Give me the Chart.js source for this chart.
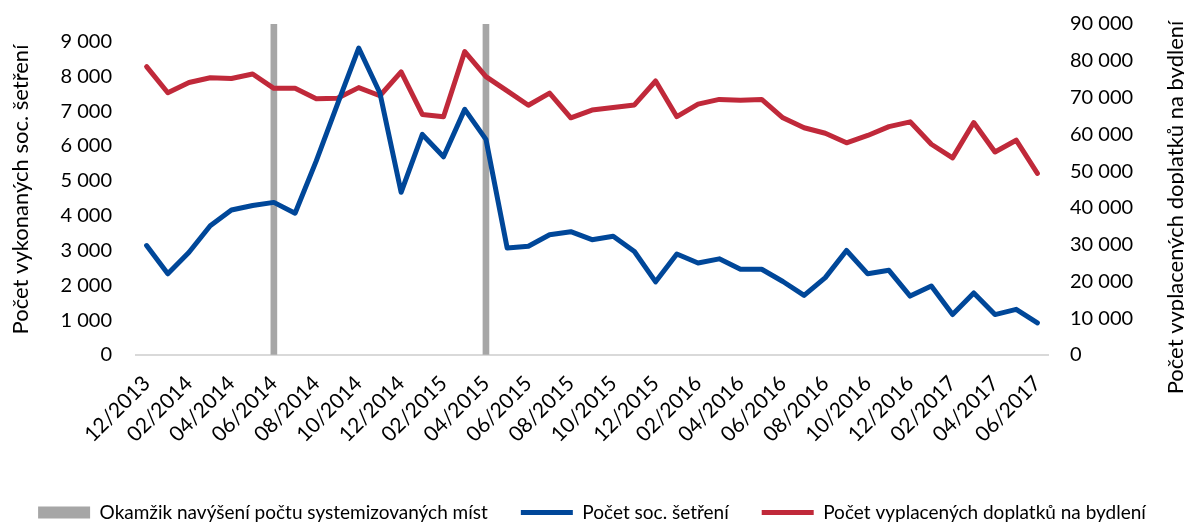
<!DOCTYPE html>
<html>
<head>
<meta charset="utf-8">
<script src="https://cdn.jsdelivr.net/npm/chart.js@4.4.0/dist/chart.umd.min.js"></script>
<style>
  html, body { margin: 0; padding: 0; background: #fff; }
  #wrap { width: 1184px; height: 522px; }
</style>
</head>
<body>
<div id="wrap"><canvas id="chart"></canvas></div>
<script>
// months on the x axis (12/2013 .. 06/2017)
const months = [
  '12/2013', '01/2014', '02/2014', '03/2014', '04/2014', '05/2014', '06/2014', '07/2014', '08/2014',
  '09/2014', '10/2014', '11/2014', '12/2014', '01/2015', '02/2015', '03/2015', '04/2015', '05/2015',
  '06/2015', '07/2015', '08/2015', '09/2015', '10/2015', '11/2015', '12/2015', '01/2016', '02/2016',
  '03/2016', '04/2016', '05/2016', '06/2016', '07/2016', '08/2016', '09/2016', '10/2016', '11/2016',
  '12/2016', '01/2017', '02/2017', '03/2017', '04/2017', '05/2017', '06/2017'
];

// Počet soc. šetření (left axis)
const socInvestigations = [
  3140, 2330, 2950, 3710, 4160, 4290, 4380, 4070, 5570, 7200, 8810, 7520, 4670, 6330, 5690,
  7050, 6190, 3070, 3120, 3450, 3540, 3310, 3410, 2970, 2100, 2900, 2640, 2760, 2460, 2460,
  2110, 1710, 2220, 3000, 2330, 2430, 1690, 1980, 1160, 1780, 1160, 1310, 920
];

// Počet vyplacených doplatků na bydlení (right axis)
const housingSupplements = [
  78400, 71300, 74100, 75400, 75200, 76400, 72500, 72500, 69700, 69800, 72700, 70500, 77000,
  65400, 64800, 82500, 75700, 71800, 67900, 71200, 64500, 66600, 67300, 68000, 74500, 64800,
  68200, 69500, 69300, 69500, 64500, 61800, 60300, 57700, 59700, 62100, 63400, 57300, 53600,
  63200, 55200, 58400, 49400
];

// months when the number of positions was raised
const staffIncreaseMonths = ['06/2014', '04/2015'];

// tick values of both value axes
const leftTicks = [0, 1000, 2000, 3000, 4000, 5000, 6000, 7000, 8000, 9000];
const rightTicks = [0, 10000, 20000, 30000, 40000, 50000, 60000, 70000, 80000, 90000];

const leftMax = 9500;
const rightMax = 90000;
const leftTitle = 'Počet vykonaných soc. šetření';
const rightTitle = 'Počet vyplacených doplatků na bydlení';

const markerBars = months.map(m => staffIncreaseMonths.includes(m) ? rightMax : null);

const fmt = v => String(v).replace(/\B(?=(\d{3})+(?!\d))/g, ' ');

Chart.defaults.font.family = 'Lato';
Chart.defaults.font.size = 20;
Chart.defaults.color = '#000';

// right axis title reads bottom-to-top like the left one
const rightTitlePlugin = {
  id: 'rightTitle',
  afterDraw(chart) {
    const ctx = chart.ctx;
    const area = chart.chartArea;
    ctx.save();
    ctx.translate(chart.width - 8, (area.top + area.bottom) / 2 + 18);
    ctx.rotate(-Math.PI / 2);
    ctx.font = '22px Lato';
    ctx.fillStyle = '#000';
    ctx.textAlign = 'center';
    ctx.textBaseline = 'middle';
    ctx.fillText(rightTitle, 0, 0);
    ctx.restore();
  }
};

// invisible tick marks push the labels away from the plot
const hiddenTicks = { display: true, drawOnChartArea: false, drawTicks: true, color: 'transparent' };

const ctx = document.getElementById('chart').getContext('2d');
new Chart(ctx, {
  type: 'line',
  data: {
    labels: months,
    datasets: [
      {
        type: 'bar',
        label: 'Okamžik navýšení počtu systemizovaných míst',
        data: markerBars,
        yAxisID: 'y2',
        backgroundColor: '#a6a6a6',
        borderWidth: 0,
        barThickness: 6,
        order: 3
      },
      {
        label: 'Počet soc. šetření',
        data: socInvestigations,
        yAxisID: 'y',
        borderColor: '#004799',
        backgroundColor: '#004799',
        borderWidth: 5,
        borderCapStyle: 'round',
        borderJoinStyle: 'round',
        pointRadius: 0,
        tension: 0,
        order: 1
      },
      {
        label: 'Počet vyplacených doplatků na bydlení',
        data: housingSupplements,
        yAxisID: 'y2',
        borderColor: '#c0293a',
        backgroundColor: '#c0293a',
        borderWidth: 5,
        borderCapStyle: 'round',
        borderJoinStyle: 'round',
        pointRadius: 0,
        tension: 0,
        order: 2
      }
    ]
  },
  options: {
    responsive: true,
    maintainAspectRatio: false,
    animation: false,
    layout: { padding: { top: 24, bottom: -10 } },
    plugins: {
      tooltip: { enabled: false },
      legend: {
        position: 'bottom',
        labels: {
          usePointStyle: true,
          pointStyleWidth: 52,
          boxHeight: 12,
          padding: 33,
          font: { size: 19 },
          sort: (a, b) => a.datasetIndex - b.datasetIndex,
          generateLabels(chart) {
            const items = Chart.defaults.plugins.legend.labels.generateLabels(chart);
            items.forEach(it => {
              if (it.datasetIndex === 0) {
                it.pointStyle = 'rect';
              } else {
                it.pointStyle = 'line';
                it.lineWidth = 5;
              }
            });
            return items;
          }
        }
      }
    },
    scales: {
      x: {
        offset: true,
        grid: { display: false },
        border: { display: true, color: '#d9d9d9', width: 2 },
        ticks: {
          autoSkip: false,
          maxRotation: 45,
          minRotation: 45,
          padding: 8,
          font: { size: 21 },
          callback: (v, i) => i % 2 === 0 ? months[i] : ''
        },
        afterFit: s => { s.height = 115; }
      },
      y: {
        position: 'left',
        min: 0,
        max: leftMax,
        grid: Object.assign({ tickLength: 24 }, hiddenTicks),
        border: { display: false },
        ticks: { autoSkip: false, padding: 0, callback: v => fmt(v) },
        afterBuildTicks: s => { s.ticks = leftTicks.map(v => ({ value: v })); },
        title: { display: true, text: leftTitle, padding: { top: 8, bottom: 0 }, font: { size: 22 } },
        afterFit: s => { s.width = 136; }
      },
      y2: {
        position: 'right',
        min: 0,
        max: rightMax,
        grid: Object.assign({ tickLength: 22 }, hiddenTicks),
        border: { display: false },
        ticks: { autoSkip: false, padding: 0, callback: v => fmt(v) },
        afterBuildTicks: s => { s.ticks = rightTicks.map(v => ({ value: v })); },
        afterFit: s => { s.width = 136; }
      }
    }
  },
  plugins: [rightTitlePlugin]
});
</script>
</body>
</html>
